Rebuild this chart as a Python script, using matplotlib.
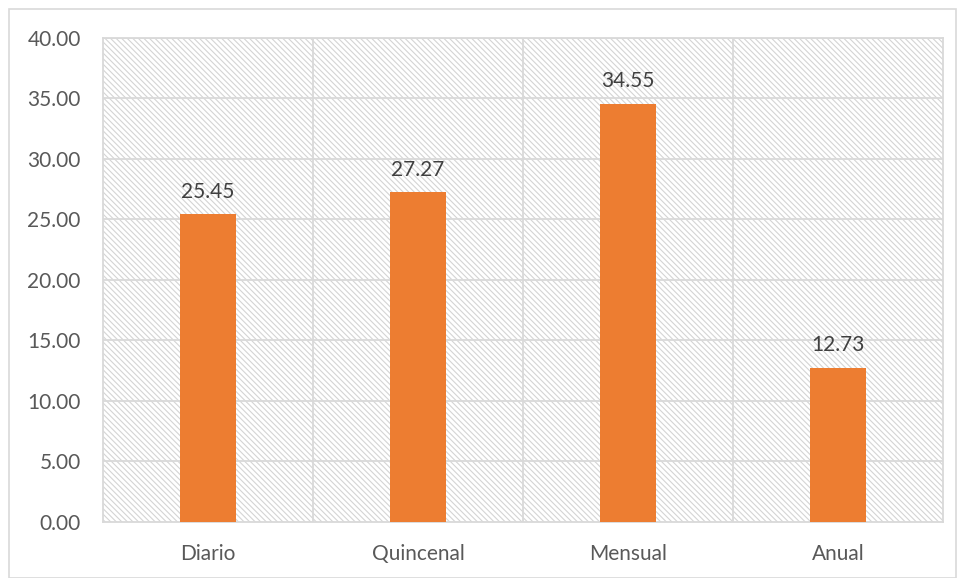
import matplotlib.pyplot as plt
from matplotlib.patches import Rectangle

categorias = ['Diario', 'Quincenal', 'Mensual', 'Anual']
porcentajes = [25.45, 27.27, 34.55, 12.73]
yticks = [0, 5, 10, 15, 20, 25, 30, 35, 40]

plt.rcParams['font.family'] = ['Lato', 'DejaVu Sans']
plt.rcParams['hatch.color'] = '#d4d4d4'
plt.rcParams['hatch.linewidth'] = 0.8

gris = '#d9d9d9'
texto = '#595959'

fig = plt.figure(figsize=(9.57, 5.78), dpi=100)
ax = fig.add_axes([0.1076, 0.0969, 0.8778, 0.8374])

# fondo rayado del area de trazado
ax.add_patch(Rectangle((0, 0), 1, 1, transform=ax.transAxes, facecolor='white',
                       edgecolor='#d4d4d4', hatch='\\' * 6, linewidth=0, zorder=0))

x = list(range(len(categorias)))
ax.bar(x, porcentajes, width=0.27, color='#ed7d31', zorder=3)
for xi, v in zip(x, porcentajes):
    ax.annotate(f'{v:.2f}', (xi, v), xytext=(0, 9), textcoords='offset points',
                ha='center', va='bottom', fontsize=15, color='#404040', zorder=4)

ax.set_xlim(-0.5, len(categorias) - 0.5)
ax.set_ylim(0, 40)
ax.set_yticks(yticks)
ax.set_yticklabels([f'{t:.2f}' for t in yticks])
ax.set_xticks(x)
ax.set_xticklabels(categorias)

# lineas de division entre categorias y lineas horizontales
for b in [0.5, 1.5, 2.5]:
    ax.axvline(b, color=gris, linewidth=1.3, zorder=1)
for t in yticks[1:]:
    ax.axhline(t, color=gris, linewidth=1.3, zorder=1)

for s in ax.spines.values():
    s.set_color(gris)
    s.set_linewidth(1.3)
ax.tick_params(axis='both', length=0, labelsize=15, labelcolor=texto)
ax.tick_params(axis='y', pad=16)
ax.tick_params(axis='x', pad=16)

# borde exterior del grafico
fig.patches.append(Rectangle((0.0094, 0.0), 0.99, 0.985, transform=fig.transFigure,
                             fill=False, edgecolor=gris, linewidth=1.2))

fig.savefig('out.png', dpi=100)
